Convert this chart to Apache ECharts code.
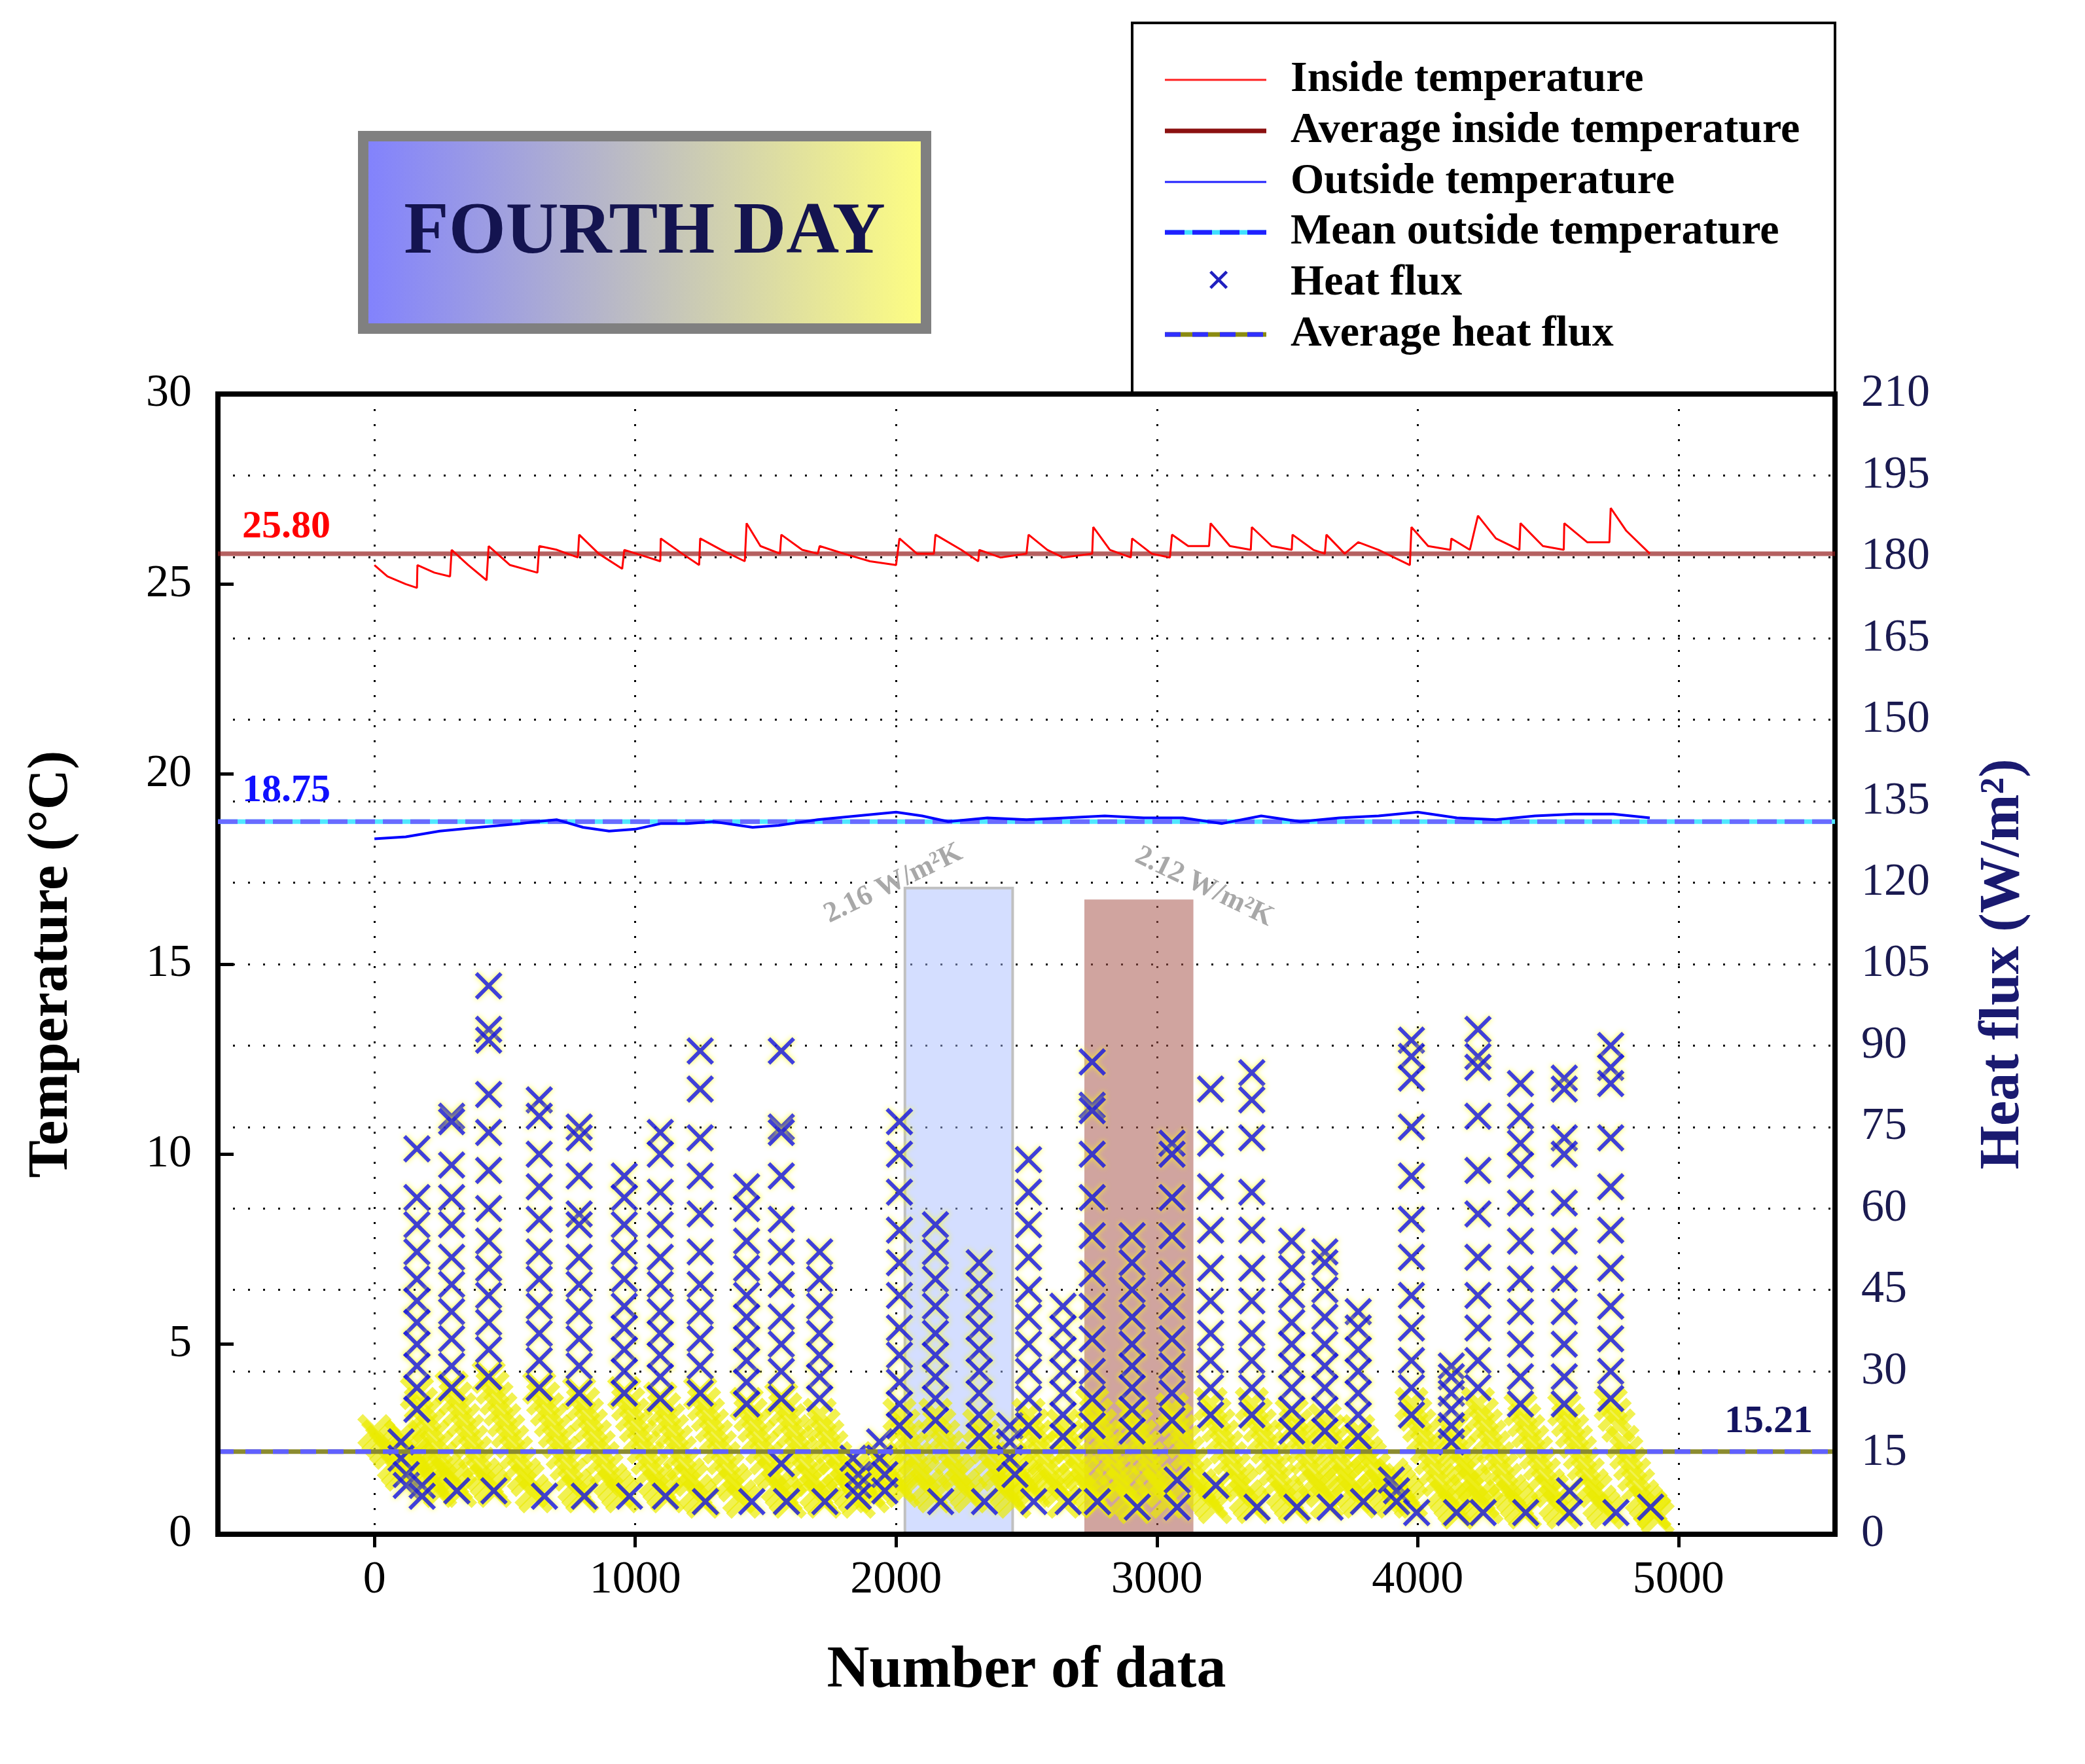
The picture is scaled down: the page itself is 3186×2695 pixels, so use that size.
<!DOCTYPE html>
<html>
<head>
<meta charset="utf-8">
<script src="https://cdn.jsdelivr.net/npm/echarts@6/dist/echarts.min.js"></script>
<style>
  html, body { margin: 0; padding: 0; background: #fff; }
  #main { width: 3186px; height: 2695px; }
</style>
</head>
<body>
<div id="main"></div>
<script>
// x ticks
const xTicks = [0, 1000, 2000, 3000, 4000, 5000];

// inside temperature (sawtooth)
const insideTemp = [
  [0, 25.5], [50, 25.2], [120, 25.0], [163, 24.9], [165, 25.5], [230, 25.3], [290, 25.2],
  [296, 25.9], [360, 25.5], [430, 25.1], [438, 26.0], [520, 25.5], [625, 25.3],
  [632, 26.0], [700, 25.9], [780, 25.7], [785, 26.3], [860, 25.8], [950, 25.4],
  [958, 25.9], [1050, 25.7], [1096, 25.6], [1098, 26.2], [1180, 25.8], [1245, 25.5],
  [1249, 26.2], [1330, 25.9], [1420, 25.6], [1427, 26.6], [1480, 26.0], [1555, 25.8],
  [1560, 26.3], [1640, 25.9], [1700, 25.8], [1707, 26.0], [1800, 25.8], [1900, 25.6], [2000, 25.5],
  [2013, 26.2], [2080, 25.8], [2145, 25.8], [2151, 26.3], [2250, 25.9], [2315, 25.6],
  [2319, 25.9], [2400, 25.7], [2500, 25.8], [2508, 26.3], [2580, 25.9], [2640, 25.7], [2752, 25.8],
  [2756, 26.5], [2820, 25.9], [2900, 25.7], [2905, 26.2], [2980, 25.8], [3050, 25.7],
  [3058, 26.3], [3120, 26.0], [3200, 26.0], [3206, 26.6], [3280, 26.0], [3360, 25.9],
  [3364, 26.5], [3440, 26.0], [3517, 25.9], [3520, 26.3], [3600, 25.9], [3644, 25.8],
  [3650, 26.3], [3720, 25.8], [3772, 26.1], [3850, 25.9], [3970, 25.5], [3976, 26.5],
  [4040, 26.0], [4125, 25.9], [4129, 26.2], [4200, 25.9], [4231, 26.8], [4300, 26.2],
  [4390, 25.9], [4394, 26.6], [4480, 26.0], [4560, 25.9], [4562, 26.6], [4650, 26.1],
  [4735, 26.1], [4740, 27.0], [4800, 26.4], [4890, 25.8]
];

// outside temperature
const outsideTemp = [
  [0, 18.3], [120, 18.35], [250, 18.5], [400, 18.6], [560, 18.7], [620, 18.75], [700, 18.8],
  [800, 18.6], [900, 18.5], [1000, 18.55], [1100, 18.7], [1200, 18.7], [1300, 18.75],
  [1450, 18.6], [1550, 18.65], [1700, 18.8], [1850, 18.9], [2000, 19.0], [2100, 18.9],
  [2200, 18.75], [2350, 18.85], [2500, 18.8], [2650, 18.85], [2800, 18.9], [2950, 18.85],
  [3100, 18.85], [3250, 18.7], [3400, 18.9], [3550, 18.75], [3700, 18.85], [3850, 18.9],
  [4000, 19.0], [4150, 18.85], [4300, 18.8], [4450, 18.9], [4600, 18.95], [4750, 18.95], [4890, 18.85]
];

// averages
const avgInside = 25.80;
const meanOutside = 18.75;
const avgFlux = 15.21;

// heat flux bursts: start point and column of crosses (W/m2)
const burstX = [102, 163, 296, 438, 632, 785, 958, 1096, 1249, 1427, 1560, 1707, 1835, 1937,
  2013, 2151, 2319, 2436, 2508, 2640, 2752, 2905, 3058, 3206, 3364, 3517, 3644, 3772, 3899,
  3976, 4129, 4231, 4394, 4562, 4740, 4893];
const burstCol = [
  [17, 14, 11, 9],
  [71, 62, 57, 52, 47, 43, 39, 35, 31, 27, 23, 9, 7],
  [77, 76, 68, 62, 57, 51, 46, 41, 36, 31, 27, 8],
  [101, 93, 91, 81, 74, 67, 60, 54, 49, 44, 39, 34, 29, 8],
  [80, 77, 70, 64, 58, 52, 47, 42, 37, 32, 27, 7],
  [75, 73, 66, 59, 57, 51, 46, 41, 36, 31, 26, 7],
  [66, 62, 57, 52, 47, 42, 38, 34, 30, 26, 7],
  [74, 70, 63, 57, 51, 46, 41, 37, 33, 29, 25, 7],
  [89, 82, 73, 66, 59, 52, 46, 41, 36, 31, 26, 6],
  [64, 60, 54, 49, 44, 40, 36, 32, 28, 24, 6],
  [89, 75, 74, 66, 58, 52, 46, 40, 35, 30, 25, 13, 6],
  [52, 47, 42, 37, 33, 29, 25, 6],
  [14, 11, 9, 7],
  [17, 14, 11, 8],
  [76, 70, 63, 56, 50, 44, 38, 33, 28, 24, 20],
  [57, 52, 47, 42, 37, 33, 29, 25, 21, 6],
  [50, 46, 42, 38, 34, 30, 26, 22, 18, 6],
  [20, 17, 14, 11],
  [69, 63, 57, 51, 45, 40, 35, 30, 25, 20, 6],
  [42, 38, 34, 30, 26, 22, 18, 6],
  [87, 79, 78, 70, 62, 55, 48, 42, 36, 30, 25, 20, 6],
  [55, 50, 45, 40, 35, 31, 27, 23, 19, 5],
  [72, 70, 62, 55, 48, 42, 36, 31, 26, 21, 10, 5],
  [82, 72, 64, 56, 49, 43, 37, 32, 27, 22, 9],
  [85, 80, 73, 63, 56, 49, 43, 37, 32, 27, 22, 5],
  [54, 49, 44, 39, 35, 31, 27, 23, 19, 5],
  [52, 50, 45, 40, 35, 31, 27, 23, 19, 5],
  [41, 38, 34, 30, 26, 22, 18, 6],
  [10, 8, 6],
  [91, 88, 84, 75, 66, 58, 51, 44, 38, 32, 27, 22, 4],
  [31, 29, 26, 23, 20, 17, 4],
  [93, 88, 86, 77, 67, 59, 51, 44, 38, 32, 27, 4],
  [83, 77, 72, 68, 61, 54, 47, 41, 35, 29, 24, 4],
  [84, 82, 73, 70, 61, 54, 47, 41, 35, 29, 24, 8, 4],
  [90, 86, 83, 73, 64, 56, 49, 42, 36, 30, 25, 4],
  [5]
];
// decaying yellow trail after each burst, sampled every 15 data
const trailStep = 15;
const burstTrail = [
  [18, 17, 16, 15, 14, 13, 12, 11, 10, 9, 8],
  [26, 24, 22, 20, 18, 16, 14, 12, 11, 10, 9, 8],
  [27, 25, 23, 21, 19, 17, 15, 13, 11, 10, 9, 8],
  [29, 27, 25, 23, 21, 19, 17, 15, 13, 11, 10, 8, 7],
  [27, 25, 23, 21, 19, 17, 15, 13, 11, 9, 8, 7],
  [26, 24, 22, 20, 18, 16, 14, 12, 10, 9, 8, 7],
  [26, 24, 22, 20, 18, 16, 14, 12, 10, 9, 8, 7],
  [25, 23, 21, 19, 17, 15, 13, 11, 10, 8, 7, 6],
  [26, 24, 22, 20, 18, 16, 14, 12, 10, 9, 7, 6],
  [24, 22, 20, 18, 16, 14, 12, 11, 9, 8, 7, 6],
  [25, 23, 21, 19, 17, 15, 13, 11, 10, 8, 7, 6],
  [22, 20, 18, 16, 14, 12, 11, 9, 8, 7, 6],
  [12, 11, 10, 9, 8, 7],
  [14, 13, 12, 11, 10, 9, 8],
  [22, 20, 18, 16, 14, 12, 11, 9, 8, 7],
  [22, 20, 18, 16, 14, 12, 11, 9, 8, 7],
  [20, 18, 16, 14, 12, 11, 9, 8, 7, 6],
  [14, 13, 12, 11, 10, 9, 8],
  [22, 20, 18, 16, 14, 12, 10, 9, 8, 6],
  [20, 18, 16, 14, 12, 11, 9, 8, 7, 6],
  [24, 22, 20, 18, 16, 14, 12, 10, 9, 7, 6, 5],
  [22, 20, 18, 16, 14, 12, 10, 9, 8, 6],
  [23, 21, 19, 17, 15, 13, 11, 9, 8, 7, 6, 5],
  [24, 22, 20, 18, 16, 14, 12, 10, 9, 7, 6, 5],
  [24, 22, 20, 18, 16, 14, 12, 10, 8, 7, 6, 5],
  [22, 20, 18, 16, 14, 12, 10, 9, 8, 6],
  [21, 19, 17, 15, 13, 11, 10, 8, 7, 6],
  [19, 17, 15, 14, 12, 10, 9, 8, 7, 6],
  [11, 10, 9, 8, 7, 6],
  [24, 22, 20, 18, 16, 14, 12, 10, 8, 7, 6, 5, 4],
  [19, 17, 15, 13, 12, 10, 9, 7, 6, 5],
  [24, 22, 20, 18, 16, 14, 12, 10, 8, 7, 6, 5, 4],
  [23, 21, 19, 17, 15, 13, 11, 9, 8, 6, 5, 4],
  [23, 21, 19, 17, 15, 13, 11, 9, 8, 6, 5, 4],
  [24, 22, 20, 17, 15, 13, 11, 9, 7, 6, 5, 4, 3],
  [5, 4]
];
const startTrail = [[0, 19], [15, 18], [30, 17], [45, 16], [60, 15], [75, 13], [90, 12], [105, 11]];

// shaded windows [x0, x1, top temp]
const windowBlue = [2034, 2447, 17.0];
const windowRed = [2722, 3140, 16.7];

const crossPts = [];
const trailPts = startTrail.slice();
burstX.forEach((x, i) => {
  burstCol[i].forEach((v, k) => crossPts.push([x + (v < 12 && k > 0 ? 20 : 0), v]));
  burstTrail[i].forEach((v, k) => trailPts.push([x + k * trailStep, v]));
});

const chart = echarts.init(document.getElementById('main'));
const serif = '"Liberation Serif", "DejaVu Serif", serif';
const xPath = 'path://M0 0L10 10M10 0L0 10';

const legendItems = [
  { name: 'Inside temperature', y: 122, draw: [{ c: '#ff2020', w: 3 }] },
  { name: 'Average inside temperature', y: 200, draw: [{ c: '#8b1010', w: 7 }] },
  { name: 'Outside temperature', y: 278, draw: [{ c: '#2020ff', w: 3 }] },
  { name: 'Mean outside temperature', y: 355, draw: [{ c: '#40e0ff', w: 7 }, { c: '#2020ff', w: 7, dash: [30, 12] }] },
  { name: 'Heat flux', y: 433, draw: [] },
  { name: 'Average heat flux', y: 511, draw: [{ c: '#8b8b10', w: 7 }, { c: '#3030ff', w: 7, dash: [24, 18] }] }
];
const graphics = [
  { type: 'rect', shape: { x: 1730, y: 35, width: 1074, height: 567 },
    style: { fill: '#fff', stroke: '#000', lineWidth: 4 }, z: 0 },
  { type: 'rect', shape: { x: 555, y: 208, width: 860, height: 294 },
    style: { fill: new echarts.graphic.LinearGradient(0, 0, 1, 0, [
      { offset: 0, color: '#8080ff' }, { offset: 1, color: '#ffff80' }]),
      stroke: '#808080', lineWidth: 16 } },
  { type: 'text', x: 985, y: 357, style: { text: 'FOURTH DAY', font: 'bold 112px ' + serif,
    fill: '#141450', align: 'center', verticalAlign: 'middle' } }
];
legendItems.forEach(it => {
  it.draw.forEach(d => graphics.push({ type: 'line', shape: { x1: 1780, y1: it.y, x2: 1935, y2: it.y },
    style: { stroke: d.c, lineWidth: d.w, lineDash: d.dash || null }, z: 10 }));
  if (it.name === 'Heat flux') {
    graphics.push({ type: 'text', x: 1862, y: it.y, style: { text: '✕', font: '48px "DejaVu Sans"',
      fill: '#2020c0', align: 'center', verticalAlign: 'middle' }, z: 10 });
  }
  graphics.push({ type: 'text', x: 1972, y: it.y, style: { text: it.name, font: 'bold 66px ' + serif,
    fill: '#000', verticalAlign: 'middle' }, z: 10 });
});
graphics.push(
  { type: 'text', x: 370, y: 805, style: { text: '25.80', font: 'bold 60px ' + serif, fill: '#ff0000', verticalAlign: 'middle' }, z: 20 },
  { type: 'text', x: 370, y: 1208, style: { text: '18.75', font: 'bold 60px ' + serif, fill: '#1010ff', verticalAlign: 'middle' }, z: 20 },
  { type: 'text', x: 2635, y: 2172, style: { text: '15.21', font: 'bold 60px ' + serif, fill: '#141460', verticalAlign: 'middle' }, z: 20 },
  { type: 'text', x: 1365, y: 1350, rotation: 0.45, style: { text: '2.16 W/m²K', font: 'bold 44px ' + serif,
    fill: '#a8a8a8', align: 'center', verticalAlign: 'middle' }, z: 20 },
  { type: 'text', x: 1840, y: 1355, rotation: -0.45, style: { text: '2.12 W/m²K', font: 'bold 44px ' + serif,
    fill: '#a8a8a8', align: 'center', verticalAlign: 'middle' }, z: 20 }
);

const option = {
  backgroundColor: '#fff',
  animation: false,
  grid: { left: 333, right: 382, top: 602, bottom: 351, show: true, borderColor: '#000', borderWidth: 8, z: 5 },
  xAxis: {
    type: 'value', min: -600, max: 5600,
    name: 'Number of data', nameLocation: 'middle', nameGap: 165,
    nameTextStyle: { fontFamily: serif, fontWeight: 'bold', fontSize: 90, color: '#000' },
    axisLine: { lineStyle: { color: '#000', width: 8 } },
    axisTick: { customValues: xTicks, length: 20, lineStyle: { color: '#000', width: 5 } },
    axisLabel: { customValues: xTicks, formatter: v => String(v), fontFamily: serif, fontSize: 70, color: '#000', margin: 36 },
    splitLine: { show: true, lineStyle: { color: '#000', type: [3, 20], width: 3 } }
  },
  yAxis: [
    {
      type: 'value', min: 0, max: 30, interval: 5, position: 'left',
      name: 'Temperature (°C)', nameLocation: 'middle', nameGap: 210,
      nameTextStyle: { fontFamily: serif, fontWeight: 'bold', fontSize: 86, color: '#000' },
      axisLine: { onZero: false, lineStyle: { color: '#000', width: 8 } },
      axisTick: { inside: true, length: 24, lineStyle: { color: '#000', width: 5 } },
      axisLabel: { fontFamily: serif, fontSize: 70, color: '#000', margin: 40 },
      splitLine: { show: false }
    },
    {
      type: 'value', min: 0, max: 210, interval: 15, position: 'right',
      name: 'Heat flux (W/m²)', nameLocation: 'middle', nameGap: 215, nameRotate: 90,
      nameTextStyle: { fontFamily: serif, fontWeight: 'bold', fontSize: 86, color: '#1a1a70' },
      axisLine: { show: true, onZero: false, lineStyle: { color: '#000', width: 8 } },
      axisTick: { show: false },
      axisLabel: { fontFamily: serif, fontSize: 70, color: '#1a1a50', margin: 40 },
      splitLine: { show: true, lineStyle: { color: '#000', type: [3, 20], width: 3 } }
    }
  ],
  series: [
    {
      type: 'line', yAxisIndex: 0, data: [], silent: true,
      markArea: {
        silent: true,
        data: [
          [{ xAxis: windowBlue[0], yAxis: 0, itemStyle: { color: 'rgba(170,190,255,0.5)', borderColor: '#c0c0c0', borderWidth: 4 } },
           { xAxis: windowBlue[1], yAxis: windowBlue[2] }],
          [{ xAxis: windowRed[0], yAxis: 0, itemStyle: { color: 'rgba(170,90,80,0.55)' } },
           { xAxis: windowRed[1], yAxis: windowRed[2] }]
        ]
      }, z: 1
    },
    {
      name: 'Heat flux trail', type: 'scatter', yAxisIndex: 1, data: trailPts, symbol: xPath, symbolSize: 44,
      itemStyle: { color: 'rgba(0,0,0,0)', borderColor: 'rgba(235,235,0,0.85)', borderWidth: 12 }, z: 2
    },
    {
      name: 'Heat flux', type: 'scatter', yAxisIndex: 1, data: crossPts, symbol: xPath, symbolSize: 38,
      itemStyle: { color: 'rgba(0,0,0,0)', borderColor: '#1010e8', borderWidth: 6,
        shadowColor: '#ffff00', shadowBlur: 8 }, z: 3
    },
    {
      name: 'Average heat flux', type: 'line', yAxisIndex: 1, data: [[-600, avgFlux], [5600, avgFlux]],
      symbol: 'none', lineStyle: { color: '#8b8b30', width: 7 }, z: 4
    },
    {
      type: 'line', yAxisIndex: 1, data: [[-600, avgFlux], [5600, avgFlux]],
      symbol: 'none', lineStyle: { color: '#6060ff', width: 7, type: [24, 18] }, z: 4
    },
    {
      name: 'Inside temperature', type: 'line', yAxisIndex: 0, data: insideTemp, symbol: 'none',
      lineStyle: { color: '#ff0000', width: 3 }, z: 6
    },
    {
      name: 'Average inside temperature', type: 'line', yAxisIndex: 0, data: [[-600, avgInside], [5600, avgInside]],
      symbol: 'none', lineStyle: { color: 'rgba(150,30,30,0.7)', width: 7 }, z: 5
    },
    {
      name: 'Outside temperature', type: 'line', yAxisIndex: 0, data: outsideTemp, symbol: 'none',
      lineStyle: { color: '#0000ff', width: 4 }, z: 6
    },
    {
      name: 'Mean outside temperature', type: 'line', yAxisIndex: 0, data: [[-600, meanOutside], [5600, meanOutside]],
      symbol: 'none', lineStyle: { color: '#50e8ff', width: 7 }, z: 5
    },
    {
      type: 'line', yAxisIndex: 0, data: [[-600, meanOutside], [5600, meanOutside]],
      symbol: 'none', lineStyle: { color: '#6a6aff', width: 7, type: [30, 12] }, z: 5
    }
  ],
  graphic: graphics
};
chart.setOption(option);
</script>
</body>
</html>
